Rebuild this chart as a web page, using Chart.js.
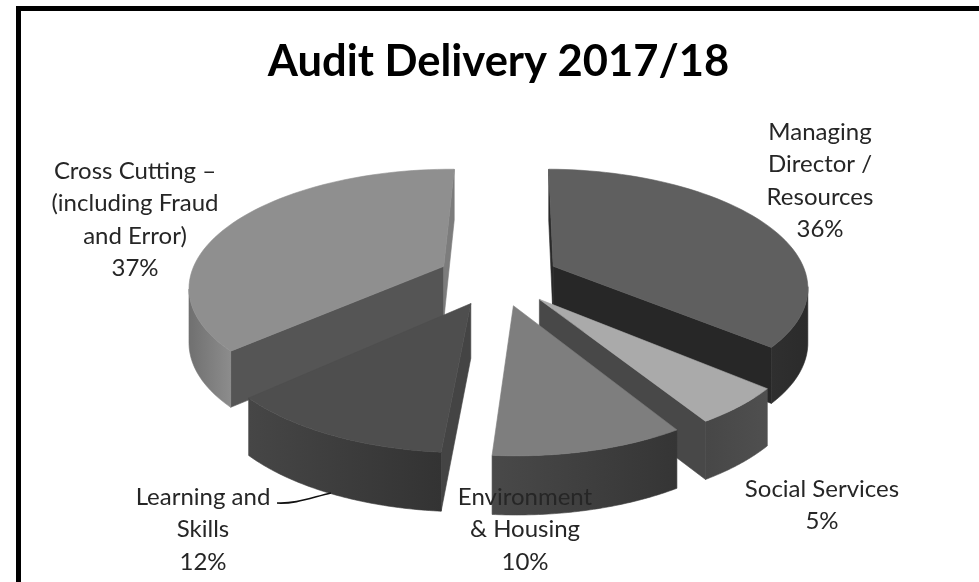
<!DOCTYPE html>
<html>
<head>
<meta charset="utf-8">
<title>Audit Delivery 2017/18</title>
<script src="https://cdn.jsdelivr.net/npm/chart.js@4/dist/chart.umd.min.js"></script>
<style>
    html, body { margin: 0; height: 100%; overflow: hidden; background: #fff; }
    .frame { position: absolute; left: 16px; top: 6px; width: 958px; height: 600px; border: 5px solid #000; }
    #auditChart { position: absolute; left: 0; top: 0; }
</style>
</head>
<body>
<div class="frame"></div>
<canvas id="auditChart" width="979" height="582"></canvas>
<script>
// Audit days by service area
const categories = ['Managing Director / Resources', 'Social Services', 'Environment & Housing', 'Learning and Skills', 'Cross Cutting – (including Fraud and Error)'];
const shares = [36, 5, 10, 12, 37];
const labelLines = [
    ['Managing', 'Director /', 'Resources'],
    ['Social Services'],
    ['Environment', '& Housing'],
    ['Learning and', 'Skills'],
    ['Cross Cutting –', '(including Fraud', 'and Error)']
];

// Slice shading
const topColors = ['#5f5f5f', '#aaaaaa', '#7e7e7e', '#4e4e4e', '#8f8f8f'];
const startWallColors = ['#2a2a2a', '#484848', '#444444', '#444444', '#555555'];
const endWallColors = ['#272727', '#484848', '#444444', '#444444', '#7c7c7c'];
const rimColors = [
    ['#2f2f2f', '#2b2b2b'],
    ['#474747', '#4f4f4f'],
    ['#494949', '#353535'],
    ['#464646', '#333333'],
    ['#707070', '#8c8c8c']
];

// Label centre points, one per slice
const labelX = [820, 822, 525, 203, 135];
const labelY = [132, 489, 497, 497, 171];
const lineGap = 32.5;

// Perspective model for the tilted disc
const view = { radiusX: 254, radiusY: 116, perspective: 0.16, depth: 54, depthGrowth: 21, explode: 0.24 };

function project(arc, dx, dy, z) {
    const s = 1 / (1 - view.perspective * dy);
    return {
        x: arc.x + view.radiusX * dx * s,
        y: arc.y + view.radiusY * dy * s + (view.depth + view.depthGrowth * (s - 1)) * z
    };
}

function rimPoint(arc, angle, z) {
    const mid = (arc.startAngle + arc.endAngle) / 2;
    const ox = Math.cos(mid) * view.explode;
    const oy = Math.sin(mid) * view.explode;
    return project(arc, Math.cos(angle) + ox, Math.sin(angle) + oy, z);
}

function apexPoint(arc, z) {
    const mid = (arc.startAngle + arc.endAngle) / 2;
    return project(arc, Math.cos(mid) * view.explode, Math.sin(mid) * view.explode, z);
}

function fillPoly(ctx, pts, fill) {
    ctx.beginPath();
    pts.forEach((p, i) => (i ? ctx.lineTo(p.x, p.y) : ctx.moveTo(p.x, p.y)));
    ctx.closePath();
    ctx.fillStyle = fill;
    ctx.fill();
    // hides the hairline seams between neighbouring faces
    ctx.strokeStyle = fill;
    ctx.lineWidth = 0.6;
    ctx.stroke();
}

function drawSlice(ctx, arc, i) {
    const steps = 60;
    const angleAt = k => arc.startAngle + (arc.endAngle - arc.startAngle) * k / steps;
    const rimTop = [];
    for (let k = 0; k <= steps; k++) {
        rimTop.push(rimPoint(arc, angleAt(k), 0));
    }
    const apex = apexPoint(arc, 0);
    const apexLow = apexPoint(arc, 1);
    const first = rimTop[0];
    const last = rimTop[steps];

    // cut faces, only the ones turned toward the viewer
    if (first.x < apex.x) {
        fillPoly(ctx, [apex, first, rimPoint(arc, arc.startAngle, 1), apexLow], startWallColors[i]);
    }
    if (last.x > apex.x) {
        fillPoly(ctx, [last, apex, apexLow, rimPoint(arc, arc.endAngle, 1)], endWallColors[i]);
    }

    // curved rim, the run of the arc that travels right to left on screen
    const front = [];
    for (let k = 0; k < steps; k++) {
        if (rimTop[k + 1].x < rimTop[k].x) {
            if (!front.length) front.push(k);
            front.push(k + 1);
        }
    }
    if (front.length) {
        const upper = front.map(k => rimTop[k]);
        const lower = front.map(k => rimPoint(arc, angleAt(k), 1)).reverse();
        const xs = upper.map(p => p.x);
        const grad = ctx.createLinearGradient(Math.max(...xs), 0, Math.min(...xs), 0);
        grad.addColorStop(0, rimColors[i][1]);
        grad.addColorStop(1, rimColors[i][0]);
        fillPoly(ctx, upper.concat(lower), grad);
    }

    fillPoly(ctx, [apex].concat(rimTop), arc.options.backgroundColor);
}

const tiltedPie = {
    id: 'tiltedPie',
    beforeDatasetDraw(chart, args) {
        const ctx = chart.ctx;
        const arcs = chart.getDatasetMeta(args.index).data;
        // back slices first, nearer ones paint over them
        [4, 0, 1, 3, 2].forEach(i => drawSlice(ctx, arcs[i], i));
        return false;
    }
};

const sliceLabels = {
    id: 'sliceLabels',
    afterDraw(chart) {
        const ctx = chart.ctx;
        ctx.save();

        // leader from the Learning and Skills label to its slice
        ctx.beginPath();
        ctx.moveTo(277, 503);
        ctx.bezierCurveTo(295, 504, 310, 498, 331, 493);
        ctx.strokeStyle = '#111';
        ctx.lineWidth = 1.6;
        ctx.stroke();

        ctx.font = '24px Lato, sans-serif';
        ctx.fillStyle = '#262626';
        ctx.textAlign = 'center';
        ctx.textBaseline = 'middle';
        labelLines.forEach((lines, i) => {
            lines.concat(shares[i] + '%').forEach((line, n) => {
                ctx.fillText(line, labelX[i], labelY[i] + n * lineGap);
            });
        });
        ctx.restore();
    }
};

new Chart(document.getElementById('auditChart'), {
    type: 'pie',
    data: {
        labels: categories,
        datasets: [{
            data: shares,
            backgroundColor: topColors,
            borderWidth: 0
        }]
    },
    options: {
        responsive: false,
        animation: false,
        rotation: 0.8,
        layout: { padding: { left: 18, top: 0, right: 0, bottom: 123 } },
        plugins: {
            legend: { display: false },
            tooltip: { enabled: false },
            title: {
                display: true,
                text: 'Audit Delivery 2017/18',
                color: '#000',
                font: { family: 'Lato, sans-serif', size: 43.5, weight: 'bold' },
                padding: { top: 36, bottom: 8 }
            }
        }
    },
    plugins: [tiltedPie, sliceLabels]
});
</script>
</body>
</html>
